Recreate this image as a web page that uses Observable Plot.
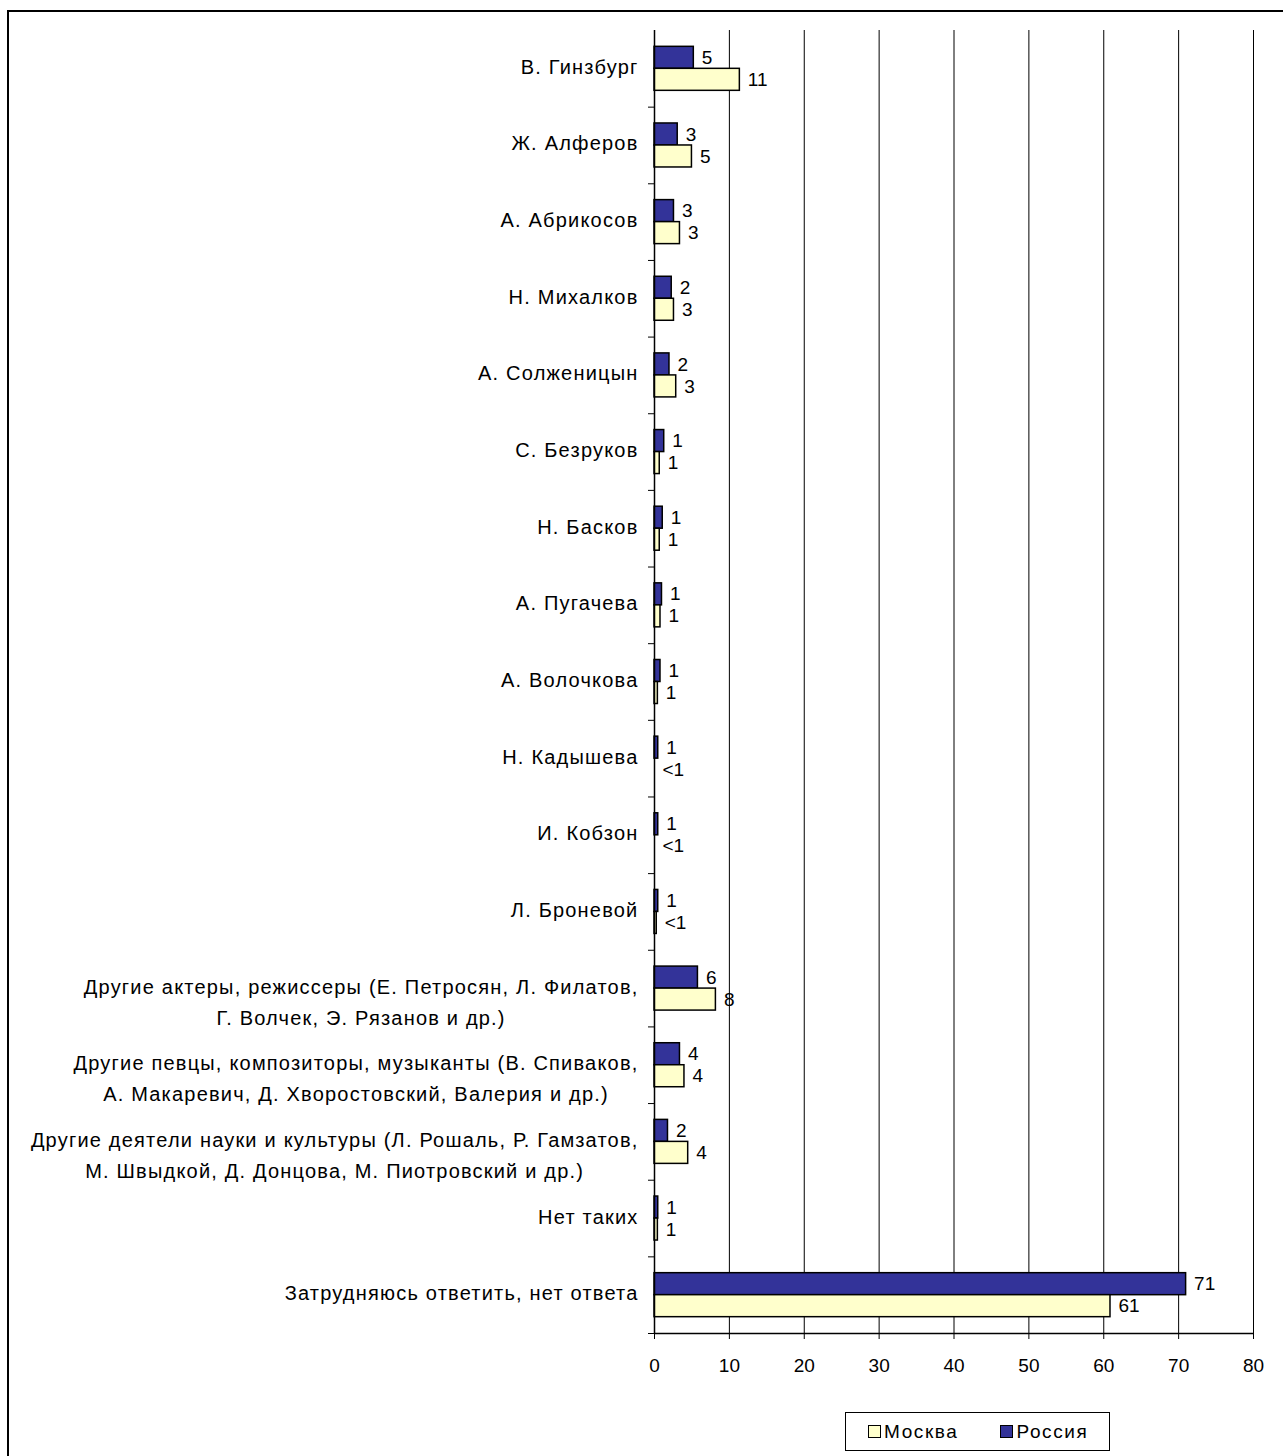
<!DOCTYPE html>
<html>
<head>
<meta charset="utf-8">
<script src="https://cdn.jsdelivr.net/npm/d3@7"></script>
<script src="https://cdn.jsdelivr.net/npm/@observablehq/plot@0.6"></script>
<style>
  html, body { margin: 0; padding: 0; background: #fff; overflow: hidden; }
  body { width: 1283px; height: 1456px; position: relative; font-family: "Liberation Sans", Arial, sans-serif; }
  #frame { position: absolute; left: 7px; top: 10px; width: 1276px; height: 1446px; border-left: 2px solid #000; border-top: 2px solid #000; box-sizing: border-box; z-index: 5; pointer-events: none; background: transparent; }
  #chart { position: absolute; left: 0; top: 0; }
  #legend { position: absolute; left: 845px; top: 1412px; width: 265px; height: 39px; border: 1px solid #000; box-sizing: border-box; background: #fff;
    display: flex; align-items: center; font-size: 19px; letter-spacing: 1.6px; color: #000; }
  .item { display: flex; align-items: center; }
  .sw { width: 11px; height: 11px; border: 1px solid #000; margin-right: 3px; }
</style>
</head>
<body>
<div id="frame"></div>
<div id="chart"></div>
<div id="legend"></div>
<script>
const categories = [
  "В. Гинзбург",
  "Ж. Алферов",
  "А. Абрикосов",
  "Н. Михалков",
  "А. Солженицын",
  "С. Безруков",
  "Н. Басков",
  "А. Пугачева",
  "А. Волочкова",
  "Н. Кадышева",
  "И. Кобзон",
  "Л. Броневой",
  "Другие актеры, режиссеры (Е. Петросян, Л. Филатов,\nГ. Волчек, Э. Рязанов и др.)",
  "Другие певцы, композиторы, музыканты (В. Спиваков,\nА. Макаревич, Д. Хворостовский, Валерия и др.)",
  "Другие деятели науки и культуры (Л. Рошаль, Р. Гамзатов,\nМ. Швыдкой, Д. Донцова, М. Пиотровский и др.)",
  "Нет таких",
  "Затрудняюсь ответить, нет ответа"
];
const russiaValues = [5.25, 3.1, 2.6, 2.3, 2.0, 1.3, 1.1, 1.0, 0.8, 0.5, 0.5, 0.5, 5.8, 3.4, 1.8, 0.5, 71.0];
const moscowValues = [11.4, 5.0, 3.4, 2.6, 2.9, 0.7, 0.7, 0.8, 0.45, 0, 0, 0.3, 8.2, 4.0, 4.5, 0.45, 60.9];
const russiaLabels = ["5","3","3","2","2","1","1","1","1","1","1","1","6","4","2","1","71"];
const moscowLabels = ["11","5","3","3","3","1","1","1","1","<1","<1","<1","8","4","4","1","61"];
const seriesNames = ["Москва", "Россия"];
const seriesColors = ["#FFFFCC", "#333399"];
const xTicks = [0, 10, 20, 30, 40, 50, 60, 70, 80];

const russia = categories.map((c, i) => ({category: c, value: russiaValues[i], label: russiaLabels[i]}));
const moscow = categories.map((c, i) => ({category: c, value: moscowValues[i], label: moscowLabels[i]}));

const W = 1283, H = 1400, mt = 30, mb = 67, ml = 654, mr = 30;
const step = (H - mt - mb) / categories.length;
const barH = 22;
const outer = (step - 2 * barH) / 2;

const chart = Plot.plot({
  width: W, height: H,
  marginTop: mt, marginBottom: mb, marginLeft: ml, marginRight: mr,
  style: {fontFamily: "'Liberation Sans', Arial, sans-serif", fontSize: "19px", color: "#000", background: "transparent"},
  x: {domain: [0, 80], label: null},
  y: {domain: categories, padding: 0, round: false, label: null, axis: null},
  marks: [
    Plot.gridX(xTicks.filter(d => d > 0), {stroke: "#000", strokeOpacity: 1, strokeWidth: 1}),
    Plot.barX(russia, {y: "category", x: "value", fill: seriesColors[1], stroke: "#000", strokeWidth: 1.5, insetTop: outer, insetBottom: outer + barH}),
    Plot.barX(moscow, {y: "category", x: "value", fill: seriesColors[0], stroke: "#000", strokeWidth: 1.5, insetTop: outer + barH, insetBottom: outer}),
    Plot.ruleX([0], {stroke: "#000", strokeWidth: 1.5}),
    Plot.ruleY([categories[categories.length - 1]], {y: d => d, dy: step / 2, stroke: "#000", strokeWidth: 1.5}),
    Plot.axisY({tickSize: 6, tickFormat: () => "", dy: step / 2, label: null, stroke: "#000"}),
    Plot.axisX(xTicks, {tickSize: 6, tickPadding: 19, fontSize: 19, label: null, stroke: "#000", style: {letterSpacing: "0.6px"}}),
    Plot.text(russia, {y: "category", x: "value", text: "label", dx: 8, dy: -barH / 2, textAnchor: "start", fontSize: 19, fill: "#000"}),
    Plot.text(moscow, {y: "category", x: "value", text: "label", dx: 8, dy: barH / 2, textAnchor: "start", fontSize: 19, fill: "#000"}),
    Plot.text(categories, {y: d => d, text: d => d, frameAnchor: "left", dx: -16, dy: -17, textAnchor: "end", lineAnchor: "top", lineHeight: 1.55, fontSize: 20, fill: "#000", ariaDescription: "category-labels"})
  ]
});
document.getElementById("chart").appendChild(chart);

// letter spacing of category labels, and centre the lines of multi-line labels
const LS = "1.2";
chart.querySelectorAll("text").forEach(t => {
  const spans = t.querySelectorAll("tspan");
  if (spans.length > 1) {
    t.setAttribute("letter-spacing", LS);
    const w = Math.max(...Array.from(spans, s => s.getComputedTextLength()));
    t.setAttribute("text-anchor", "middle");
    spans.forEach(s => s.setAttribute("x", -w / 2));
  }
});
chart.querySelectorAll('g[aria-description="category-labels"] text').forEach(t => {
  if (t.querySelectorAll("tspan").length <= 1) t.setAttribute("letter-spacing", LS);
});

const legend = document.getElementById("legend");
seriesNames.forEach((name, i) => {
  const it = document.createElement("div");
  it.className = "item";
  it.style.marginLeft = i === 0 ? "22px" : "42px";
  const sw = document.createElement("div");
  sw.className = "sw";
  sw.style.background = seriesColors[i];
  const lab = document.createElement("span");
  lab.textContent = name;
  it.appendChild(sw); it.appendChild(lab);
  legend.appendChild(it);
});
</script>
</body>
</html>
